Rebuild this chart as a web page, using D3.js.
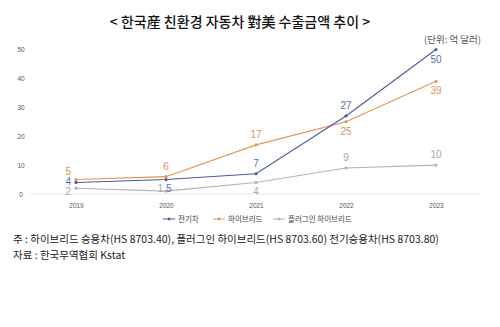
<!DOCTYPE html>
<html><head><meta charset="utf-8">
<script src="https://cdn.jsdelivr.net/npm/d3@7/dist/d3.min.js"></script>
<style>
body{margin:0;background:#fff;}
svg{display:block;font-family:"Noto Sans CJK KR","Noto Sans",sans-serif;}
.num{font-family:"Liberation Sans Narrow","Liberation Sans",sans-serif;}
</style></head>
<body><svg id="c" width="500" height="327"></svg>
<script>
const years = ["2019","2020","2021","2022","2023"];
const seriesNames = ["전기차","하이브리드","플러그인 하이브리드"];
const ev = [4,5,7,27,50];
const hybrid = [5,6,17,25,39];
const plugin = [2,1,4,9,10];
const yTicks = [0,10,20,30,40,50];
// label placement per point
const evPos = ["l","rb","a","a","b"];
const hyPos = ["la","a","a","b","b"];
const plPos = ["lb","lb2","b","a","a"];

const svg = d3.select("#c");
const x = d3.scalePoint().domain(years).range([76,436]);
const y = d3.scaleLinear().domain([0,50]).range([194,49.5]);

svg.append("text").attr("x",240).attr("y",27).attr("text-anchor","middle")
  .attr("font-size",14).attr("font-weight",500).attr("fill","#111")
  .text("< 한국産 친환경 자동차 對美 수출금액 추이 >");
svg.append("text").attr("x",481).attr("y",43).attr("text-anchor","end")
  .attr("font-size",9.5).attr("fill","#555").text("(단위: 억 달러)");

const ya = svg.append("g").attr("transform","translate(24,0)")
  .call(d3.axisLeft(y).tickValues(yTicks).tickSize(0).tickPadding(0));
ya.select(".domain").remove();
ya.selectAll("text").attr("font-size",6.5).attr("fill","#555").attr("text-anchor","middle").attr("dx",-3);

svg.append("line").attr("x1",30).attr("x2",480).attr("y1",y(0)).attr("y2",y(0))
  .attr("stroke","#e6e6e6").attr("stroke-width",1);

const xa = svg.append("g").attr("transform",`translate(0,${y(0)})`)
  .call(d3.axisBottom(x).tickSize(0).tickPadding(9));
xa.select(".domain").remove();
xa.selectAll("text").attr("font-size",6.5).attr("fill","#555");

const series = [
  {name:seriesNames[0], vals:ev, pos:evPos, color:"#4a5a9c", lab:"#5a6ea8"},
  {name:seriesNames[1], vals:hybrid, pos:hyPos, color:"#e59450", lab:"#d99459"},
  {name:seriesNames[2], vals:plugin, pos:plPos, color:"#b3b3b3", lab:"#a8a8a8"}
];
const line = d3.line().x((d,i)=>x(years[i])).y(d=>y(d));
[series[2],series[1],series[0]].forEach(s=>{
  svg.append("path").datum(s.vals).attr("d",line).attr("fill","none")
    .attr("stroke",s.color).attr("stroke-width",1.1);
  svg.selectAll(null).data(s.vals).enter().append("circle")
    .attr("cx",(d,i)=>x(years[i])).attr("cy",d=>y(d)).attr("r",1.6).attr("fill",s.color);
});
const off = {l:[-5,3,"end"],la:[-5,-5,"end"],lb:[-5,7,"end"],lb2:[-3,1,"end"],
             a:[0,-7,"middle"],b:[0,13,"middle"],rb:[0,12.5,"start"]};
series.forEach(s=>{
  svg.selectAll(null).data(s.vals).enter().append("text").attr("class","num")
    .attr("x",(d,i)=>x(years[i])+off[s.pos[i]][0])
    .attr("y",(d,i)=>y(d)+off[s.pos[i]][1])
    .attr("text-anchor",(d,i)=>off[s.pos[i]][2])
    .attr("font-size",10).attr("fill",s.lab).text(d=>d);
});

const lx = [163,213,273];
series.forEach((s,i)=>{
  const g = svg.append("g").attr("transform",`translate(${lx[i]},219)`);
  g.append("line").attr("x1",0).attr("x2",12).attr("stroke",s.color).attr("stroke-width",1);
  g.append("circle").attr("cx",6).attr("r",1.4).attr("fill",s.color);
  g.append("text").attr("x",15).attr("y",3).attr("font-size",7.5).attr("fill","#444").text(s.name);
});

svg.append("text").attr("x",13).attr("y",243).attr("font-size",10.5).attr("fill","#222")
  .text("주 : 하이브리드 승용차(HS 8703.40), 플러그인 하이브리드(HS 8703.60) 전기승용차(HS 8703.80)");
svg.append("text").attr("x",13).attr("y",259).attr("font-size",10.5).attr("fill","#222")
  .text("자료 : 한국무역협회 Kstat");
</script></body></html>
